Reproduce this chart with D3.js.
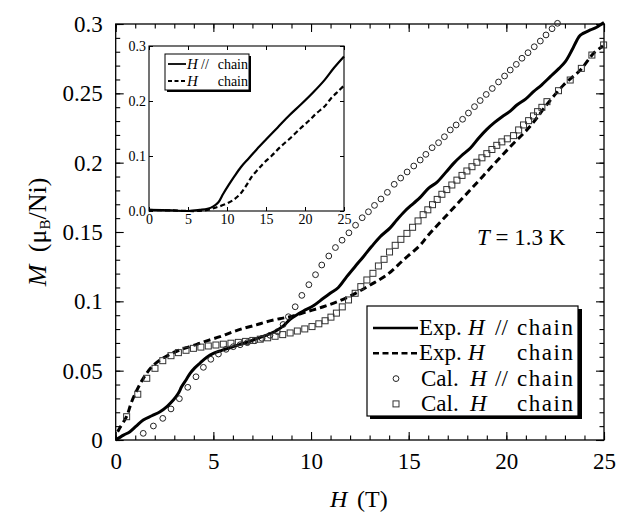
<!DOCTYPE html>
<html>
<head>
<meta charset="utf-8">
<script src="https://cdn.jsdelivr.net/npm/d3@7"></script>
<style>
  body { margin: 0; background: #fff; }
  text { font-family: "Liberation Serif", "Times New Roman", serif; fill: #000; }
</style>
</head>
<body>
<div id="chart"></div>
<script>
// field H (T), magnetization M (muB/Ni)
const expParallel = [
  [0, 0], [0.4, 0.0035], [0.73, 0.006], [1.05, 0.01], [1.41, 0.0144], [1.85, 0.0175],
  [2.27, 0.0204], [2.65, 0.0245], [2.95, 0.0288], [3.2, 0.0335], [3.38, 0.0385],
  [3.6, 0.0433], [3.81, 0.048], [4.05, 0.052], [4.32, 0.0555], [4.65, 0.0595],
  [5.0, 0.0625], [5.4, 0.0645], [5.85, 0.0665], [6.37, 0.069], [6.88, 0.0712],
  [7.3, 0.0735], [7.73, 0.0757], [8.24, 0.079], [8.6, 0.0825], [8.93, 0.087],
  [9.3, 0.0905], [9.61, 0.093], [10.12, 0.0968], [10.63, 0.1022], [10.98, 0.1058],
  [11.4, 0.11], [11.83, 0.1178], [12.25, 0.125], [12.68, 0.1322], [13.1, 0.1395],
  [13.54, 0.1466], [14.05, 0.153], [14.39, 0.1587], [14.8, 0.165], [15.25, 0.1707],
  [15.59, 0.175], [16.01, 0.1815], [16.44, 0.1858], [16.9, 0.193], [17.3, 0.1995],
  [17.7, 0.205], [18.15, 0.2104], [18.6, 0.218], [19.0, 0.224], [19.4, 0.229],
  [19.8, 0.2333], [20.2, 0.2372], [20.54, 0.2416], [21.0, 0.246], [21.39, 0.2512],
  [21.8, 0.256], [22.25, 0.262], [22.7, 0.268], [23.02, 0.2728], [23.36, 0.2812],
  [23.6, 0.288], [23.79, 0.292], [24.3, 0.2957], [24.6, 0.2975], [25.0, 0.301]
];
const expPerp = [
  [0.1, 0.006], [0.22, 0.009], [0.56, 0.017], [0.8, 0.027], [1.07, 0.0355],
  [1.35, 0.043], [1.58, 0.048], [1.9, 0.0535], [2.27, 0.0577], [2.7, 0.0612],
  [3.12, 0.064], [3.6, 0.0665], [4.15, 0.069], [4.66, 0.0715], [5.34, 0.0745],
  [6.0, 0.078], [6.54, 0.0805], [7.2, 0.083], [7.73, 0.0853], [8.4, 0.0875],
  [8.93, 0.0889], [9.78, 0.0925], [10.63, 0.0961], [11.4, 0.1], [12.17, 0.105],
  [13.03, 0.1118], [13.88, 0.119], [14.73, 0.1298], [15.59, 0.1406], [16.01, 0.1478],
  [17.04, 0.1635], [18.15, 0.1803], [19.17, 0.1959], [20.2, 0.2115], [21.23, 0.2264],
  [22.08, 0.242], [22.93, 0.256], [23.79, 0.2668], [24.47, 0.2789], [24.95, 0.2841]
];
const calParallel = [
  [1.41, 0.0048], [1.93, 0.0101], [2.41, 0.0156], [2.83, 0.0224], [3.26, 0.0298],
  [3.69, 0.038], [4.11, 0.0456], [4.49, 0.0524], [4.87, 0.0582], [5.26, 0.062],
  [5.65, 0.0654], [6.02, 0.0673], [6.37, 0.0687], [6.74, 0.0702], [7.12, 0.0716],
  [7.49, 0.0733], [7.9, 0.0755], [8.28, 0.0781], [8.57, 0.0833], [8.84, 0.0889],
  [9.19, 0.0961], [9.53, 0.1043], [9.89, 0.112], [10.23, 0.1192], [10.55, 0.1262],
  [10.91, 0.1327], [11.25, 0.1388], [11.59, 0.1441], [11.94, 0.1494], [12.28, 0.1549],
  [12.62, 0.1603], [12.94, 0.1646], [13.25, 0.1692], [13.58, 0.1738], [13.91, 0.1786],
  [14.26, 0.1844], [14.59, 0.1889], [14.92, 0.1933], [15.26, 0.1976], [15.59, 0.2019],
  [15.88, 0.206], [16.2, 0.2108], [16.53, 0.2144], [16.83, 0.2187], [17.13, 0.2236],
  [17.43, 0.2272], [17.76, 0.2313], [18.06, 0.2358], [18.37, 0.2404], [18.66, 0.2448],
  [18.97, 0.2492], [19.28, 0.2535], [19.6, 0.2582], [19.91, 0.2625], [20.2, 0.2668],
  [20.51, 0.2709], [20.8, 0.2753], [21.11, 0.2793], [21.43, 0.2836], [21.74, 0.2877],
  [22.03, 0.2921], [22.34, 0.2966], [22.62, 0.3005]
];
const calPerp = [
  [0.56, 0.0168], [1.13, 0.033], [1.59, 0.0445], [2.01, 0.0517], [2.41, 0.0572],
  [2.83, 0.0608], [3.21, 0.063], [3.6, 0.0647], [3.98, 0.0661], [4.36, 0.067],
  [4.74, 0.0678], [5.13, 0.0685], [5.51, 0.0691], [5.9, 0.0698], [6.28, 0.0704],
  [6.65, 0.0711], [7.02, 0.0718], [7.4, 0.0727], [7.78, 0.0737], [8.16, 0.0748],
  [8.55, 0.076], [8.93, 0.0772], [9.3, 0.0786], [9.68, 0.0801], [10.05, 0.0818],
  [10.4, 0.0838], [10.72, 0.086], [11.02, 0.0886], [11.3, 0.0915], [11.6, 0.096],
  [11.92, 0.101], [12.26, 0.1058], [12.55, 0.1106], [12.86, 0.1154], [13.17, 0.1202],
  [13.45, 0.1255], [13.74, 0.1303], [14.02, 0.1356], [14.31, 0.1404], [14.6, 0.1447],
  [14.91, 0.149], [15.2, 0.1534], [15.48, 0.158], [15.74, 0.1625], [15.98, 0.166],
  [16.22, 0.1697], [16.46, 0.1735], [16.7, 0.1772], [16.95, 0.1806], [17.21, 0.1839],
  [17.47, 0.1874], [17.73, 0.1908], [17.98, 0.194], [18.24, 0.1971], [18.49, 0.2003],
  [18.75, 0.2035], [19.0, 0.2065], [19.26, 0.2095], [19.51, 0.2125], [19.77, 0.215],
  [20.05, 0.2172], [20.37, 0.2195], [20.63, 0.2236], [20.88, 0.2272], [21.14, 0.2303],
  [21.39, 0.2337], [21.6, 0.2368], [21.82, 0.2399], [22.08, 0.244], [22.67, 0.2519],
  [23.27, 0.2596], [23.84, 0.268], [24.38, 0.2776], [24.98, 0.2849]
];
// inset: wide range curves
const insetParallel = [
  [0, 0.002], [3, 0.001], [5, 0.0], [6.5, 0.002], [7.5, 0.004], [8.2, 0.008],
  [8.9, 0.016], [9.5, 0.031], [10.2, 0.047], [10.9, 0.062], [11.8, 0.08],
  [12.8, 0.096], [13.8, 0.112], [15, 0.13], [16.5, 0.152], [18, 0.174],
  [19.5, 0.194], [21, 0.215], [22.5, 0.238], [23.7, 0.26], [25, 0.281]
];
const insetPerp = [
  [0, 0.002], [3, 0.001], [6, 0.0], [7.5, 0.002], [8.5, 0.006], [9.9, 0.013],
  [11, 0.022], [11.7, 0.031], [12.5, 0.047], [13.2, 0.063], [14.0, 0.076],
  [14.7, 0.087], [15.7, 0.1], [16.8, 0.116], [18, 0.131], [19.4, 0.15],
  [20.5, 0.164], [21.5, 0.178], [22.5, 0.19], [23.3, 0.204], [24.2, 0.217], [25, 0.228]
];
const xTicks = [0, 5, 10, 15, 20, 25];
const yTicks = [0, 0.05, 0.1, 0.15, 0.2, 0.25, 0.3];
const insetYTicks = [0, 0.1, 0.2, 0.3];
const insetYLabels = ["0.0", "0.1", "0.2", "0.3"];

const width = 618, height = 515;
const serif = '"Liberation Serif", "Times New Roman", serif';

const svg = d3.select("#chart").append("svg")
    .attr("width", width)
    .attr("height", height);
svg.append("rect").attr("width", width).attr("height", height).attr("fill", "#fff");

const plot = { left: 115.7, right: 604, top: 24, bottom: 440 };
const x = d3.scaleLinear().domain([0, 25]).range([plot.left, plot.right]);
const y = d3.scaleLinear().domain([0, 0.3]).range([plot.bottom, plot.top]);

// ticks, all pointing inward
function ticks(g, axis) {
    g.call(axis);
    g.select(".domain").remove();
    g.selectAll("line").attr("stroke", "#000").attr("stroke-width", 1.1);
    g.selectAll("text").style("font-family", serif).style("font-size", "23px").attr("fill", "#000");
}
const minorX = d3.range(0, 26, 1);
const minorY = d3.range(0, 0.3001, 0.01);

svg.append("g").attr("transform", `translate(0,${plot.bottom})`)
    .call(g => ticks(g, d3.axisBottom(x).tickValues(xTicks).tickSize(-8).tickPadding(13).tickFormat(d3.format("d"))));
svg.append("g").attr("transform", `translate(0,${plot.bottom})`)
    .call(g => ticks(g, d3.axisBottom(x).tickValues(minorX).tickSize(-4.5).tickFormat("")));
svg.append("g").attr("transform", `translate(0,${plot.top})`)
    .call(g => ticks(g, d3.axisTop(x).tickValues(xTicks).tickSize(-8).tickFormat("")));
svg.append("g").attr("transform", `translate(0,${plot.top})`)
    .call(g => ticks(g, d3.axisTop(x).tickValues(minorX).tickSize(-4.5).tickFormat("")));
svg.append("g").attr("transform", `translate(${plot.left},0)`)
    .call(g => ticks(g, d3.axisLeft(y).tickValues(yTicks).tickSize(-8).tickPadding(13).tickFormat(d => d === 0 ? "0" : String(+d.toFixed(2)))));
svg.append("g").attr("transform", `translate(${plot.left},0)`)
    .call(g => ticks(g, d3.axisLeft(y).tickValues(minorY).tickSize(-4.5).tickFormat("")));
svg.append("g").attr("transform", `translate(${plot.right},0)`)
    .call(g => ticks(g, d3.axisRight(y).tickValues(yTicks).tickSize(-8).tickFormat("")));
svg.append("g").attr("transform", `translate(${plot.right},0)`)
    .call(g => ticks(g, d3.axisRight(y).tickValues(minorY).tickSize(-4.5).tickFormat("")));

svg.append("rect")
    .attr("x", plot.left).attr("y", plot.top)
    .attr("width", plot.right - plot.left).attr("height", plot.bottom - plot.top)
    .attr("fill", "none").attr("stroke", "#000").attr("stroke-width", 1.3);

// data
const line = d3.line().x(d => x(d[0])).y(d => y(d[1])).curve(d3.curveCatmullRom.alpha(0.5));

svg.append("path").datum(expParallel)
    .attr("d", line).attr("fill", "none").attr("stroke", "#000").attr("stroke-width", 3);
svg.append("path").datum(expPerp)
    .attr("d", line).attr("fill", "none").attr("stroke", "#000").attr("stroke-width", 3)
    .attr("stroke-dasharray", "7,4");

svg.append("g").selectAll("circle").data(calParallel).enter().append("circle")
    .attr("cx", d => x(d[0])).attr("cy", d => y(d[1])).attr("r", 2.9)
    .attr("fill", "none").attr("stroke", "#222").attr("stroke-width", 1);
svg.append("g").selectAll("rect").data(calPerp).enter().append("rect")
    .attr("x", d => x(d[0]) - 3).attr("y", d => y(d[1]) - 3)
    .attr("width", 6).attr("height", 6)
    .attr("fill", "none").attr("stroke", "#333").attr("stroke-width", 1);

// axis titles
svg.append("text").attr("x", 330).attr("y", 507).style("font-size", "24px")
    .attr("font-style", "italic").text("H");
svg.append("text").attr("x", 357).attr("y", 507).style("font-size", "24px").text("(T)");
svg.append("text").attr("transform", "translate(46,232) rotate(-90)").attr("text-anchor", "middle")
    .style("font-size", "26px")
    .call(t => {
        t.append("tspan").attr("font-style", "italic").text("M");
        t.append("tspan").attr("dx", 6).text(" (μ");
        t.append("tspan").attr("font-size", "15px").attr("dy", 4).text("B");
        t.append("tspan").attr("dy", -4).text("/Ni)");
    });

svg.append("text").attr("x", 477).attr("y", 245).style("font-size", "23px")
    .call(t => {
        t.append("tspan").attr("font-style", "italic").text("T");
        t.append("tspan").text(" = 1.3 K");
    });

// main legend
const lg = svg.append("g");
lg.append("rect").attr("x", 370).attr("y", 309).attr("width", 212).attr("height", 110).attr("fill", "#000");
lg.append("rect").attr("x", 367).attr("y", 306).attr("width", 211).attr("height", 110)
    .attr("fill", "#fff").attr("stroke", "#000").attr("stroke-width", 1.2);
const rows = [
    { kind: "solid", lab: "Exp.", sym: "//" },
    { kind: "dash", lab: "Exp.", sym: "" },
    { kind: "circle", lab: "Cal.", sym: "//" },
    { kind: "square", lab: "Cal.", sym: "" }
];
rows.forEach((r, i) => {
    const by = 335 + i * 25.3;
    const cy = by - 7;
    if (r.kind === "solid" || r.kind === "dash") {
        lg.append("line").attr("x1", 373).attr("x2", 418).attr("y1", cy).attr("y2", cy)
            .attr("stroke", "#000").attr("stroke-width", 2.6)
            .attr("stroke-dasharray", r.kind === "dash" ? "6,3.5" : null);
    } else if (r.kind === "circle") {
        lg.append("circle").attr("cx", 396).attr("cy", cy).attr("r", 2.9)
            .attr("fill", "none").attr("stroke", "#222");
    } else {
        lg.append("rect").attr("x", 393).attr("y", cy - 3).attr("width", 6).attr("height", 6)
            .attr("fill", "none").attr("stroke", "#333");
    }
    const lx = r.kind === "solid" || r.kind === "dash" ? 419 : 421;
    lg.append("text").attr("x", lx).attr("y", by).style("font-size", "23px").text(r.lab);
    lg.append("text").attr("x", lx + 49).attr("y", by).style("font-size", "23px")
        .attr("font-style", "italic").text("H");
    if (r.sym) lg.append("text").attr("x", 495).attr("y", by).style("font-size", "23px").text(r.sym);
    lg.append("text").attr("x", 517).attr("y", by).style("font-size", "23px")
        .attr("textLength", 56).attr("lengthAdjust", "spacing").text("chain");
});

// inset
const ins = { left: 149, right: 344, top: 46, bottom: 211 };
const xi = d3.scaleLinear().domain([0, 25]).range([ins.left, ins.right]);
const yi = d3.scaleLinear().domain([0, 0.3]).range([ins.bottom, ins.top]);
const inset = svg.append("g");
inset.append("rect").attr("x", ins.left).attr("y", ins.top)
    .attr("width", ins.right - ins.left).attr("height", ins.bottom - ins.top).attr("fill", "#fff");

function smallTicks(g, axis) {
    g.call(axis);
    g.select(".domain").remove();
    g.selectAll("line").attr("stroke", "#000").attr("stroke-width", 1);
    g.selectAll("text").style("font-family", serif).style("font-size", "14px").attr("fill", "#000");
}
inset.append("g").attr("transform", `translate(0,${ins.bottom})`)
    .call(g => smallTicks(g, d3.axisBottom(xi).tickValues(xTicks).tickSize(-4).tickPadding(3).tickFormat(d3.format("d"))));
inset.append("g").attr("transform", `translate(0,${ins.top})`)
    .call(g => smallTicks(g, d3.axisTop(xi).tickValues(xTicks).tickSize(-4).tickFormat("")));
inset.append("g").attr("transform", `translate(${ins.left},0)`)
    .call(g => smallTicks(g, d3.axisLeft(yi).tickValues(insetYTicks).tickSize(-4).tickPadding(3)
        .tickFormat((d, i) => insetYLabels[i])));
inset.append("g").attr("transform", `translate(${ins.right},0)`)
    .call(g => smallTicks(g, d3.axisRight(yi).tickValues(insetYTicks).tickSize(-4).tickFormat("")));
inset.append("rect").attr("x", ins.left).attr("y", ins.top)
    .attr("width", ins.right - ins.left).attr("height", ins.bottom - ins.top)
    .attr("fill", "none").attr("stroke", "#000").attr("stroke-width", 1.1);

const lineI = d3.line().x(d => xi(d[0])).y(d => yi(d[1])).curve(d3.curveCatmullRom.alpha(0.5));
inset.append("path").datum(insetParallel).attr("d", lineI)
    .attr("fill", "none").attr("stroke", "#000").attr("stroke-width", 2.2);
inset.append("path").datum(insetPerp).attr("d", lineI)
    .attr("fill", "none").attr("stroke", "#000").attr("stroke-width", 2.2).attr("stroke-dasharray", "5,3");

// inset legend
inset.append("rect").attr("x", 167).attr("y", 56).attr("width", 84).attr("height", 36).attr("fill", "#000");
inset.append("rect").attr("x", 165).attr("y", 54).attr("width", 84).attr("height", 36)
    .attr("fill", "#fff").attr("stroke", "#000").attr("stroke-width", 1);
[["solid", "//"], ["dash", ""]].forEach((r, i) => {
    const by = 69 + i * 17;
    inset.append("line").attr("x1", 168).attr("x2", 186).attr("y1", by - 5).attr("y2", by - 5)
        .attr("stroke", "#000").attr("stroke-width", 1.8)
        .attr("stroke-dasharray", r[0] === "dash" ? "4,2.5" : null);
    inset.append("text").attr("x", 187).attr("y", by).style("font-size", "15px")
        .attr("font-style", "italic").text("H");
    if (r[1]) inset.append("text").attr("x", 201).attr("y", by).style("font-size", "14px").text(r[1]);
    inset.append("text").attr("x", 248).attr("y", by).attr("text-anchor", "end").style("font-size", "14px").text("chain");
});
</script>
</body>
</html>
